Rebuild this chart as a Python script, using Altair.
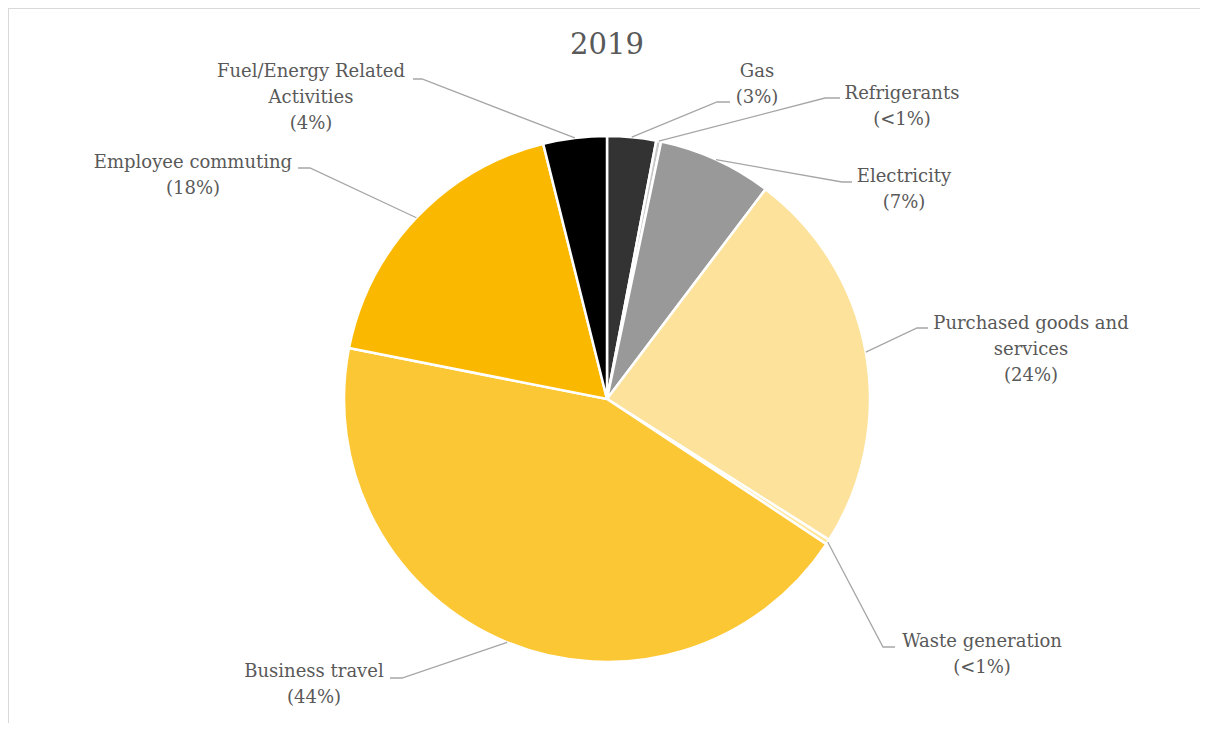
import altair as alt
import numpy as np
import pandas as pd

# ---- data ----
title_text = "2019"
categories = ["Gas", "Refrigerants", "Electricity", "Purchased goods and services",
              "Waste generation", "Business travel", "Employee commuting",
              "Fuel/Energy Related Activities"]
values = [3.0, 0.3, 7.0, 23.7, 0.3, 43.8, 18.0, 3.9]
pct_labels = ["3%", "<1%", "7%", "24%", "<1%", "44%", "18%", "4%"]
wrapped_names = ["Gas", "Refrigerants", "Electricity", "Purchased goods and\nservices",
                 "Waste generation", "Business travel", "Employee commuting",
                 "Fuel/Energy Related\nActivities"]

# ---- styling / layout ----
colors = ["#333333", "#c8c8c8", "#999999", "#fce29b", "#ffe699", "#fcc734", "#fab900", "#000000"]
W, H = 1192, 715
CX, CY, R = 599, 391, 263
FONT = "DejaVu Serif"
TXT = "#595959"
LINE_H = 26
# label block centre x, first-line centre y; leader start (at label) and elbow
label_layout = {
    "Gas": dict(x=749, y=62, sx=722, sy=94, ex=709, ey=94),
    "Refrigerants": dict(x=894, y=84, sx=832, sy=90, ex=817, ey=90),
    "Electricity": dict(x=896, y=167, sx=844, sy=174, ex=834, ey=174),
    "Purchased goods and services": dict(x=1023, y=314, sx=920, sy=320, ex=909, ey=320),
    "Waste generation": dict(x=974, y=632, sx=887, sy=639, ex=875, ey=639),
    "Business travel": dict(x=306, y=662, sx=382, sy=670, ex=394, ey=670),
    "Employee commuting": dict(x=185, y=153, sx=290, sy=160, ex=302, ey=160),
    "Fuel/Energy Related Activities": dict(x=303, y=62, sx=405, sy=71, ex=414, ey=71),
}

df = pd.DataFrame({"category": categories, "value": values, "idx": range(len(categories))})
df["label"] = [f"{n}\n({p})" for n, p in zip(wrapped_names, pct_labels)]

# mid-angles computed from the data (clockwise from top)
tot = float(np.sum(values))
cum = np.cumsum(values)
mid = (cum - np.array(values) / 2) / tot * 2 * np.pi

text_rows, line_rows = [], []
for i, c in enumerate(categories):
    L = label_layout[c]
    text_rows.append(dict(category=c, label=df.label[i], px=L["x"], py=L["y"] - 7))
    ax = CX + R * np.sin(mid[i])
    ay = CY - R * np.cos(mid[i])
    for k, (px, py) in enumerate([(L["sx"], L["sy"]), (L["ex"], L["ey"]), (ax, ay)]):
        line_rows.append(dict(category=c, k=k, px=px, py=py))
tdf = pd.DataFrame(text_rows)
ldf = pd.DataFrame(line_rows)

pie = alt.Chart(df).mark_arc(radius=R, stroke="white", strokeWidth=2.5).encode(
    theta=alt.Theta("value:Q", stack=True),
    color=alt.Color("category:N", scale=alt.Scale(domain=categories, range=colors), legend=None),
    order=alt.Order("idx:Q"),
    x=alt.value(CX), y=alt.value(CY),
)

leaders = alt.Chart(ldf).mark_line(color="#a6a6a6", strokeWidth=1.3).encode(
    x=alt.X("px:Q", scale=None), y=alt.Y("py:Q", scale=None),
    detail="category:N", order="k:Q",
)

labels = alt.Chart(tdf).mark_text(
    font=FONT, fontSize=18, color=TXT, align="center", baseline="top",
    lineBreak="\n", lineHeight=LINE_H,
).encode(x=alt.X("px:Q", scale=None), y=alt.Y("py:Q", scale=None), text="label:N")

title = alt.Chart(pd.DataFrame({"t": [title_text]})).mark_text(
    font=FONT, fontSize=29, color=TXT, align="center", baseline="middle",
).encode(x=alt.value(CX), y=alt.value(37), text="t:N")

border = alt.Chart(pd.DataFrame({"a": [0]})).mark_rule(color="#d9d9d9", strokeWidth=2).encode(
    x=alt.value(0), x2=alt.value(W), y=alt.value(0))
border2 = alt.Chart(pd.DataFrame({"a": [0]})).mark_rule(color="#d9d9d9", strokeWidth=2).encode(
    x=alt.value(0), y=alt.value(0), y2=alt.value(H))

chart = alt.layer(border, border2, pie, leaders, labels, title).properties(
    width=W, height=H, padding=0, autosize=alt.AutoSizeParams(type="none"),
).configure_view(stroke=None).configure(background="white")

chart.save("out.html", embed_options={"renderer": "svg", "actions": False})
